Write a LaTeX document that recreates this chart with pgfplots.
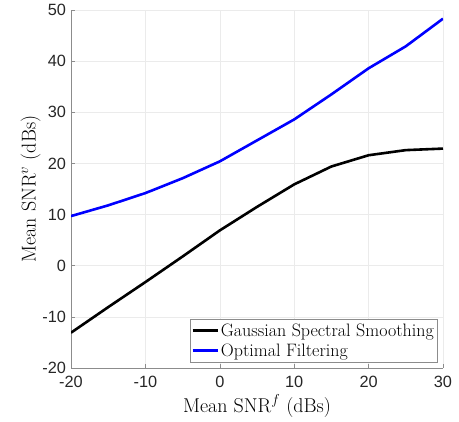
\documentclass[border=0pt]{standalone}
\usepackage{fontspec}
\newfontfamily\ticksfont{Liberation Sans}
\usepackage{pgfplots}
\pgfplotsset{compat=1.18}
\definecolor{axgrey}{HTML}{8C8C8C}
\definecolor{gridgrey}{HTML}{EBEBEB}

\begin{document}
\begin{tikzpicture}
\begin{axis}[
  name=ax,
  scale only axis, width=372pt, height=358pt,
  xmin=-20, xmax=30, ymin=-20, ymax=50,
  axis x line*=bottom, axis y line*=left,
  axis line style={axgrey, line width=0.6pt},
  xtick={-20,-10,0,10,20,30}, xticklabels={-20,-10,0,10,20,30},
  ytick={-20,-10,0,10,20,30,40,50}, yticklabels={-20,-10,0,10,20,30,40,50},
  tick label style={font=\ticksfont\fontsize{16.3}{18}\selectfont, text=black!85},
  xticklabel style={yshift=-5pt},
  yticklabel style={xshift=-1.5pt},
  tick style={axgrey, line width=0.6pt}, tick align=inside,
  major tick length=4pt,
  grid=major, major grid style={gridgrey, line width=0.6pt},
  xlabel={Mean SNR$^f$ (dBs)}, ylabel={Mean SNR$^v$ (dBs)},
  label style={font=\fontsize{20}{22}\selectfont},
  ylabel style={yshift=-5pt},
  legend style={font=\fontsize{18}{20}\selectfont, draw=black!45,
    at={(axis description cs:1,0)}, anchor=south east,
    xshift=-6pt, yshift=6pt, inner xsep=1pt, inner ysep=2pt,
    row sep=2pt},
  legend cell align=left,
  legend image code/.code={\draw[#1] (0pt,0pt) -- (25pt,0pt);},
]
\addplot[black, line width=2.6pt] coordinates {
  (-20,-13.1) (-15,-8.1) (-10,-3.2) (-5,1.8) (0,6.9) (5,11.5)
  (10,15.9) (15,19.4) (20,21.6) (25,22.6) (30,22.9)};
\addlegendentry{Gaussian Spectral Smoothing}
\addplot[blue, line width=2.6pt] coordinates {
  (-20,9.7) (-15,11.8) (-10,14.2) (-5,17.1) (0,20.4) (5,24.5)
  (10,28.6) (15,33.5) (20,38.6) (25,42.9) (30,48.3)};
\addlegendentry{Optimal Filtering}
\end{axis}
\pgfresetboundingbox
\path[use as bounding box] ([xshift=-71pt,yshift=-54pt]ax.south west)
  rectangle ([xshift=16pt,yshift=10pt]ax.north east);
\end{tikzpicture}
\end{document}
